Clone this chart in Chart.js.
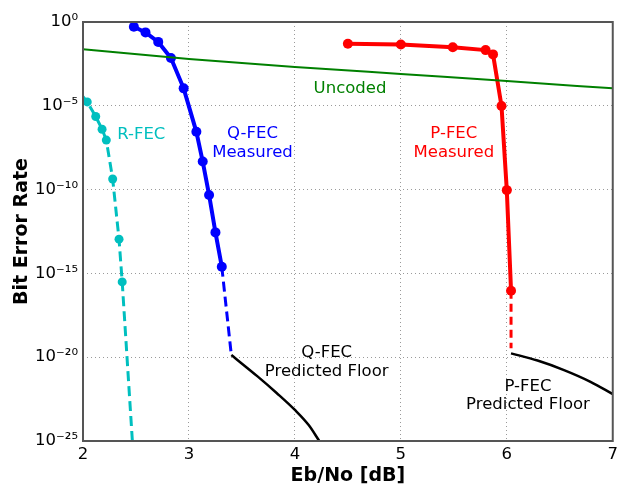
<!DOCTYPE html>
<html>
<head>
<meta charset="utf-8">
<script src="https://cdn.jsdelivr.net/npm/chart.js@4"></script>
<style>
  html, body { margin: 0; padding: 0; background: #fff; }
  #wrap { width: 622px; height: 488px; }
</style>
</head>
<body>
<div id="wrap"><canvas id="ber-chart" width="622" height="488"></canvas></div>
<script>
// Eb/No [dB] and bit error rate
const uncodedX = [2, 3, 4, 5, 6, 7];
const uncodedY = [2.35e-2, 6.3e-3, 2.1e-3, 7.9e-4, 3.0e-4, 1.1e-4];

const rfecX = [1.98, 2.04, 2.12, 2.18, 2.22, 2.28, 2.34, 2.37, 2.466];
const rfecY = [5e-5, 1.7e-5, 2.3e-6, 4e-7, 9e-8, 4.3e-10, 1.1e-13, 3.1e-16, 1e-25];

const qfecX = [2.48, 2.59, 2.71, 2.83, 2.95, 3.07, 3.13, 3.19, 3.25, 3.31];
const qfecY = [0.52, 0.24, 0.065, 7.1e-3, 1.1e-4, 2.8e-7, 4.7e-9, 4.8e-11, 2.8e-13, 2.5e-15];
const qfecExtX = [3.31, 3.40];
const qfecExtY = [2.5e-15, 1.35e-20];
const qfloorX = [3.40, 3.65, 3.83, 4.0, 4.13, 4.23];
const qfloorY = [1.35e-20, 6.9e-22, 7.1e-23, 7.1e-24, 8.9e-25, 1e-25];

const pfecX = [4.5, 5.0, 5.49, 5.8, 5.87, 5.95, 6.0, 6.04];
const pfecY = [0.051, 0.045, 0.031, 0.021, 0.0117, 9.8e-6, 9.3e-11, 9.3e-17];
const pfecExtX = [6.04, 6.04];
const pfecExtY = [9.3e-17, 3.4e-20];
const pfloorX = [6.04, 6.29, 6.54, 6.79, 7.0];
const pfloorY = [1.7e-20, 6.3e-21, 1.7e-21, 3.4e-22, 6.3e-23];

const xTicks = [2, 3, 4, 5, 6, 7];
const yTickExps = [0, -5, -10, -15, -20, -25];

// text labels placed in data coordinates
const notes = [
  { lines: ["Uncoded"], x: 4.52, y: 1e-4, color: "#008000" },
  { lines: ["R-FEC"], x: 2.55, y: 1.8e-7, color: "#00BFBF" },
  { lines: ["Q-FEC", "Measured"], x: 3.6, y: 6e-8, color: "#0000FF" },
  { lines: ["P-FEC", "Measured"], x: 5.5, y: 6e-8, color: "#FF0000" },
  { lines: ["Q-FEC", "Predicted Floor"], x: 4.3, y: 5e-21, color: "#000000" },
  { lines: ["P-FEC", "Predicted Floor"], x: 6.2, y: 5e-23, color: "#000000" },
];

const SUP = { "0": "⁰", "1": "¹", "2": "²", "3": "³", "4": "⁴", "5": "⁵", "6": "⁶", "7": "⁷", "8": "⁸", "9": "⁹", "-": "⁻" };

function pts(xs, ys) {
  return xs.map((x, i) => ({ x: x, y: ys[i] }));
}

const frame = {
  id: "frame",
  afterDatasetsDraw(chart) {
    const { ctx, chartArea: a, scales } = chart;
    ctx.save();
    ctx.font = "16.5px 'DejaVu Sans'";
    ctx.textAlign = "center";
    ctx.textBaseline = "middle";
    notes.forEach((n) => {
      const px = scales.x.getPixelForValue(n.x);
      const py = scales.y.getPixelForValue(n.y);
      ctx.fillStyle = n.color;
      const lh = 18.5;
      const y0 = py - ((n.lines.length - 1) * lh) / 2;
      n.lines.forEach((t, i) => ctx.fillText(t, px, y0 + i * lh));
    });
    ctx.strokeStyle = "#555555";
    ctx.lineWidth = 2;
    ctx.strokeRect(a.left, a.top, a.right - a.left, a.bottom - a.top);
    ctx.restore();
  },
};

const gridStyle = {
  color: "#9a9a9a",
  lineWidth: 1,
  drawTicks: false,
};

new Chart(document.getElementById("ber-chart"), {
  type: "scatter",
  data: {
    datasets: [
      {
        data: pts(uncodedX, uncodedY),
        showLine: true,
        borderColor: "#008000",
        borderWidth: 2,
        pointRadius: 0,
        cubicInterpolationMode: "monotone",
      },
      {
        data: pts(rfecX, rfecY),
        showLine: true,
        borderColor: "#00BFBF",
        backgroundColor: "#00BFBF",
        borderWidth: 3,
        borderDash: [10, 5],
        pointRadius: (c) => (c.raw.x < 2 || c.raw.y <= 1e-25 ? 0 : 4.5),
        pointBorderWidth: 0,
      },
      {
        data: pts(qfecExtX, qfecExtY),
        showLine: true,
        borderColor: "#0000FF",
        borderWidth: 3,
        borderDash: [10, 5],
        pointRadius: 0,
      },
      {
        data: pts(qfecX, qfecY),
        showLine: true,
        borderColor: "#0000FF",
        backgroundColor: "#0000FF",
        borderWidth: 4,
        pointRadius: 5,
        pointBorderWidth: 0,
      },
      {
        data: pts(qfloorX, qfloorY),
        showLine: true,
        borderColor: "#000000",
        borderWidth: 2.5,
        pointRadius: 0,
        cubicInterpolationMode: "monotone",
      },
      {
        data: pts(pfecExtX, pfecExtY),
        showLine: true,
        borderColor: "#FF0000",
        borderWidth: 3,
        borderDash: [8, 5],
        pointRadius: 0,
      },
      {
        data: pts(pfecX, pfecY),
        showLine: true,
        borderColor: "#FF0000",
        backgroundColor: "#FF0000",
        borderWidth: 4,
        pointRadius: 5,
        pointBorderWidth: 0,
      },
      {
        data: pts(pfloorX, pfloorY),
        showLine: true,
        borderColor: "#000000",
        borderWidth: 2.5,
        pointRadius: 0,
        cubicInterpolationMode: "monotone",
      },
    ],
  },
  options: {
    responsive: false,
    animation: false,
    layout: { padding: { top: 22, right: 6, left: 0, bottom: 0 } },
    plugins: { legend: { display: false }, tooltip: { enabled: false } },
    scales: {
      x: {
        type: "linear",
        min: 2,
        max: 7,
        afterBuildTicks: (scale) => {
          scale.ticks = xTicks.map((v) => ({ value: v }));
        },
        afterFit: (scale) => {
          scale.height = 47;
        },
        ticks: {
          padding: 4,
          color: "#000",
          font: { family: "'DejaVu Sans'", size: 16.5 },
          callback: (v) => String(v),
        },
        grid: { ...gridStyle },
        border: { display: false, dash: [1, 3] },
        title: {
          display: true,
          text: "Eb/No [dB]",
          color: "#000",
          font: { family: "'DejaVu Sans'", size: 19, weight: "bold" },
          padding: { top: 0, bottom: 1 },
        },
      },
      y: {
        type: "logarithmic",
        min: 1e-25,
        max: 1,
        afterBuildTicks: (scale) => {
          scale.ticks = yTickExps.map((e) => ({ value: Math.pow(10, e) }));
        },
        afterFit: (scale) => {
          scale.width = 83;
        },
        ticks: {
          padding: 5,
          color: "#000",
          font: { family: "'DejaVu Sans'", size: 16.5 },
          callback: (v) => {
            const e = String(Math.round(Math.log10(v)));
            return "10" + e.split("").map((c) => SUP[c]).join("");
          },
        },
        grid: { ...gridStyle },
        border: { display: false, dash: [1, 3] },
        title: {
          display: true,
          text: "Bit Error Rate",
          color: "#000",
          font: { family: "'DejaVu Sans'", size: 19, weight: "bold" },
          padding: { top: 11, bottom: 0 },
        },
      },
    },
  },
  plugins: [frame],
});
</script>
</body>
</html>
